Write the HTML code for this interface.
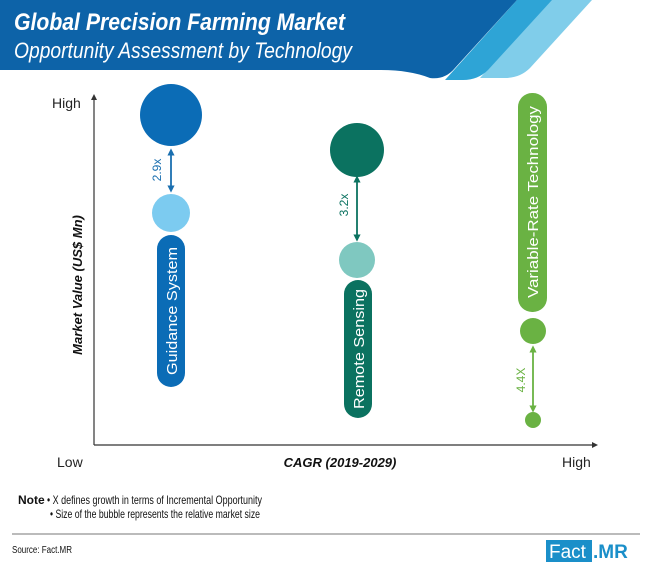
<!DOCTYPE html>
<html><head><meta charset="utf-8"><style>
body{margin:0;background:#fff;}
svg{display:block;font-family:"Liberation Sans",sans-serif;}
</style></head><body>
<svg width="650" height="573" viewBox="0 0 650 573" xmlns="http://www.w3.org/2000/svg">
<defs>
<marker id="ab" viewBox="0 0 10 10" refX="5" refY="5" markerWidth="4" markerHeight="4" orient="auto-start-reverse"><path d="M0,0 L10,5 L0,10z" fill="#1a6fb0"/></marker>
<marker id="at" viewBox="0 0 10 10" refX="5" refY="5" markerWidth="4" markerHeight="4" orient="auto-start-reverse"><path d="M0,0 L10,5 L0,10z" fill="#0b7260"/></marker>
<marker id="ag" viewBox="0 0 10 10" refX="5" refY="5" markerWidth="4" markerHeight="4" orient="auto-start-reverse"><path d="M0,0 L10,5 L0,10z" fill="#6ab243"/></marker>
<marker id="ak" viewBox="0 0 10 10" refX="5" refY="5" markerWidth="5" markerHeight="5" orient="auto"><path d="M0,0 L10,5 L0,10z" fill="#333"/></marker>
</defs>
<path d="M550,0 L592,0 L530,68 Q520,78 505,78 L480,78 Z" fill="#80cdea"/>
<path d="M517,0 L552,0 L488,70 Q478,80 463,80 L445,80 Z" fill="#2ea4d6"/>
<path d="M0,0 L517,0 L455,68 Q445,80 430,78 Q410,70 380,70 L0,70 Z" fill="#0d63a8"/>
<text x="14" y="30" font-size="24" font-weight="bold" font-style="italic" fill="#fff" textLength="331" lengthAdjust="spacingAndGlyphs">Global Precision Farming Market</text>
<text x="14" y="58" font-size="22" font-style="italic" fill="#fff" textLength="338" lengthAdjust="spacingAndGlyphs">Opportunity Assessment by Technology</text>
<line x1="94" y1="445" x2="94" y2="97" stroke="#333" stroke-width="1.2" marker-end="url(#ak)"/>
<line x1="94" y1="445" x2="595" y2="445" stroke="#333" stroke-width="1.2" marker-end="url(#ak)"/>
<text x="52" y="108" font-size="14" fill="#222">High</text>
<text x="57" y="467" font-size="14" fill="#222">Low</text>
<text x="562" y="467" font-size="14" fill="#222">High</text>
<text x="340" y="467" font-size="13" font-weight="bold" font-style="italic" fill="#111" text-anchor="middle">CAGR (2019-2029)</text>
<text transform="translate(82,285) rotate(-90)" font-size="13" font-weight="bold" font-style="italic" fill="#111" text-anchor="middle">Market Value (US$ Mn)</text>
<circle cx="171" cy="115" r="31" fill="#0b6cb6"/>
<circle cx="171" cy="213" r="19" fill="#7ccbf0"/>
<line x1="171" y1="152" x2="171" y2="189" stroke="#1a6fb0" stroke-width="1.8" marker-start="url(#ab)" marker-end="url(#ab)"/>
<text transform="translate(161,170) rotate(-90)" font-size="12" fill="#1a6fb0" text-anchor="middle">2.9x</text>
<rect x="157" y="235" width="28" height="152" rx="14" fill="#0b6cb6"/>
<text transform="translate(177,311) rotate(-90)" font-size="15" fill="#fff" text-anchor="middle" textLength="128" lengthAdjust="spacingAndGlyphs">Guidance System</text>
<circle cx="357" cy="150" r="27" fill="#0b7260"/>
<circle cx="357" cy="260" r="18" fill="#7fc8c0"/>
<line x1="357" y1="179" x2="357" y2="238" stroke="#0b7260" stroke-width="1.8" marker-start="url(#at)" marker-end="url(#at)"/>
<text transform="translate(348,205) rotate(-90)" font-size="12" fill="#0b7260" text-anchor="middle">3.2x</text>
<rect x="344" y="280" width="28" height="138" rx="14" fill="#0b7260"/>
<text transform="translate(364,349) rotate(-90)" font-size="15" fill="#fff" text-anchor="middle" textLength="120" lengthAdjust="spacingAndGlyphs">Remote Sensing</text>
<rect x="518" y="93" width="29" height="219" rx="14" fill="#6ab243"/>
<text transform="translate(538,202) rotate(-90)" font-size="15" fill="#fff" text-anchor="middle" textLength="192" lengthAdjust="spacingAndGlyphs">Variable-Rate Technology</text>
<circle cx="533" cy="331" r="13" fill="#6ab243"/>
<circle cx="533" cy="420" r="8" fill="#6ab243"/>
<line x1="533" y1="349" x2="533" y2="409" stroke="#6ab243" stroke-width="1.8" marker-start="url(#ag)" marker-end="url(#ag)"/>
<text transform="translate(525,380) rotate(-90)" font-size="12" fill="#6ab243" text-anchor="middle">4.4X</text>
<text x="18" y="504" font-size="12" font-weight="bold" fill="#111">Note</text>
<text x="47" y="504" font-size="12" fill="#111" textLength="215" lengthAdjust="spacingAndGlyphs">• X defines growth in terms of Incremental Opportunity</text>
<text x="50" y="518" font-size="12" fill="#111" textLength="210" lengthAdjust="spacingAndGlyphs">• Size of the bubble represents the relative market size</text>
<line x1="12" y1="534" x2="640" y2="534" stroke="#777" stroke-width="1"/>
<text x="12" y="553" font-size="10" fill="#111" textLength="60" lengthAdjust="spacingAndGlyphs">Source: Fact.MR</text>
<rect x="546" y="540" width="46" height="22" fill="#1a8fc9"/>
<text x="549" y="558" font-size="19" fill="#fff">Fact</text>
<text x="593" y="558" font-size="19" font-weight="bold" fill="#1a8fc9">.MR</text>
</svg>
</body></html>
